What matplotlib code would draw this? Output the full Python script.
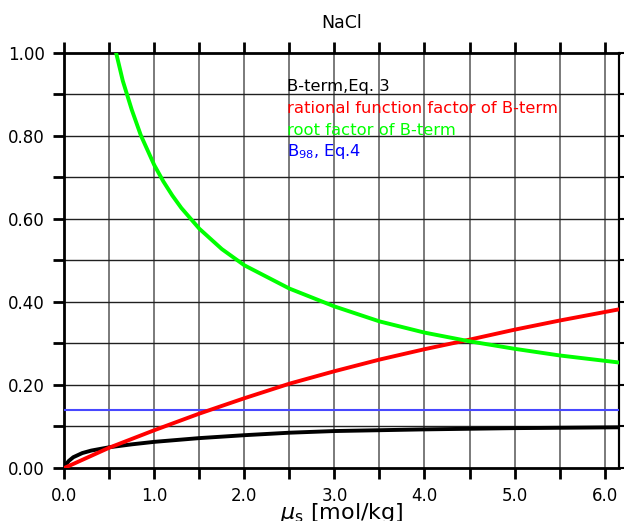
import matplotlib
matplotlib.use("Agg")
import matplotlib.pyplot as plt
from matplotlib.ticker import MultipleLocator

# ---- data ----
x_max = 6.16

bterm_x = [0.0, 0.02, 0.05, 0.1, 0.2, 0.3, 0.5, 0.75, 1.0, 1.5, 2.0, 2.5, 3.0, 4.0, 5.0, 6.16]
bterm_y = [0.0, 0.009, 0.017, 0.026, 0.036, 0.042, 0.050, 0.057, 0.063, 0.072, 0.079, 0.085, 0.089, 0.093, 0.096, 0.098]

ratio_x = [0.0, 0.5, 1.0, 1.5, 2.0, 2.5, 3.0, 3.5, 4.0, 4.5, 5.0, 5.5, 6.16]
ratio_y = [0.0, 0.049, 0.091, 0.131, 0.168, 0.203, 0.233, 0.261, 0.286, 0.309, 0.333, 0.355, 0.382]

root_x = [0.575, 0.65, 0.75, 0.85, 1.0, 1.1, 1.2, 1.3, 1.5, 1.75, 2.0, 2.5, 3.0, 3.5, 4.0, 4.5, 5.0, 5.5, 6.16]
root_y = [1.0, 0.932, 0.862, 0.801, 0.729, 0.690, 0.656, 0.626, 0.576, 0.527, 0.488, 0.432, 0.389, 0.353, 0.326, 0.305, 0.287, 0.271, 0.254]

b98_value = 0.14

labels = ["B-term,Eq. 3", "rational function factor of B-term",
          "root factor of B-term", r"B$_{98}$, Eq.4"]
label_colors = ["black", "#ff0000", "#00ff00", "#0000ff"]

# ---- figure ----
fig = plt.figure(figsize=(6.24, 5.21), dpi=100)
ax = fig.add_axes([0.103, 0.1017, 0.889, 0.7973])

# grid
for xv in [i * 0.5 for i in range(1, 13)]:
    ax.axvline(xv, color="#7a7a7a", lw=1.4, zorder=1)
for yv in [i * 0.1 for i in range(1, 10)]:
    ax.axhline(yv, color="#202020", lw=1.0, zorder=1)

ax.plot([0, x_max], [b98_value, b98_value], color="#4848ff", lw=1.5, zorder=3)
ax.plot(bterm_x, bterm_y, color="black", lw=2.8, zorder=3)
ax.plot(ratio_x, ratio_y, color="#ff0000", lw=2.8, zorder=4)
ax.plot(root_x, root_y, color="#00ff00", lw=2.8, zorder=4)

ax.set_xlim(0, x_max)
ax.set_ylim(0, 1.0)

ax.xaxis.set_major_locator(MultipleLocator(1.0))
ax.xaxis.set_minor_locator(MultipleLocator(0.5))
ax.yaxis.set_major_locator(MultipleLocator(0.2))
ax.yaxis.set_minor_locator(MultipleLocator(0.1))
ax.xaxis.set_major_formatter(lambda v, p: "%.1f" % v)
ax.yaxis.set_major_formatter(lambda v, p: "%.2f" % v)

ax.tick_params(axis="x", which="both", direction="out", length=8, width=2,
               top=True, labeltop=False, labelsize=12, pad=6)
ax.tick_params(axis="y", which="both", direction="out", length=8, width=2,
               right=False, labelsize=12, pad=6)

# short ticks on the right edge
sec = ax.secondary_yaxis("right")
sec.yaxis.set_major_locator(MultipleLocator(0.1))
sec.tick_params(axis="y", which="both", length=4, width=1.5, labelright=False)
sec.spines["right"].set_linewidth(1.5)

for side in ["left", "bottom", "top"]:
    ax.spines[side].set_linewidth(2)
ax.spines["right"].set_linewidth(1.5)

ax.set_title("NaCl", fontsize=12.5, pad=18)
ax.set_xlabel(r"$\mu_\mathrm{s}$ [mol/kg]", fontsize=16, labelpad=-3)

# legend text block
text_y = [0.919, 0.866, 0.813, 0.763]
for lab, col, ty in zip(labels, label_colors, text_y):
    ax.text(2.47, ty, lab, color=col, fontsize=11.8, va="center", ha="left", zorder=5)

fig.savefig("out.png", dpi=100)
